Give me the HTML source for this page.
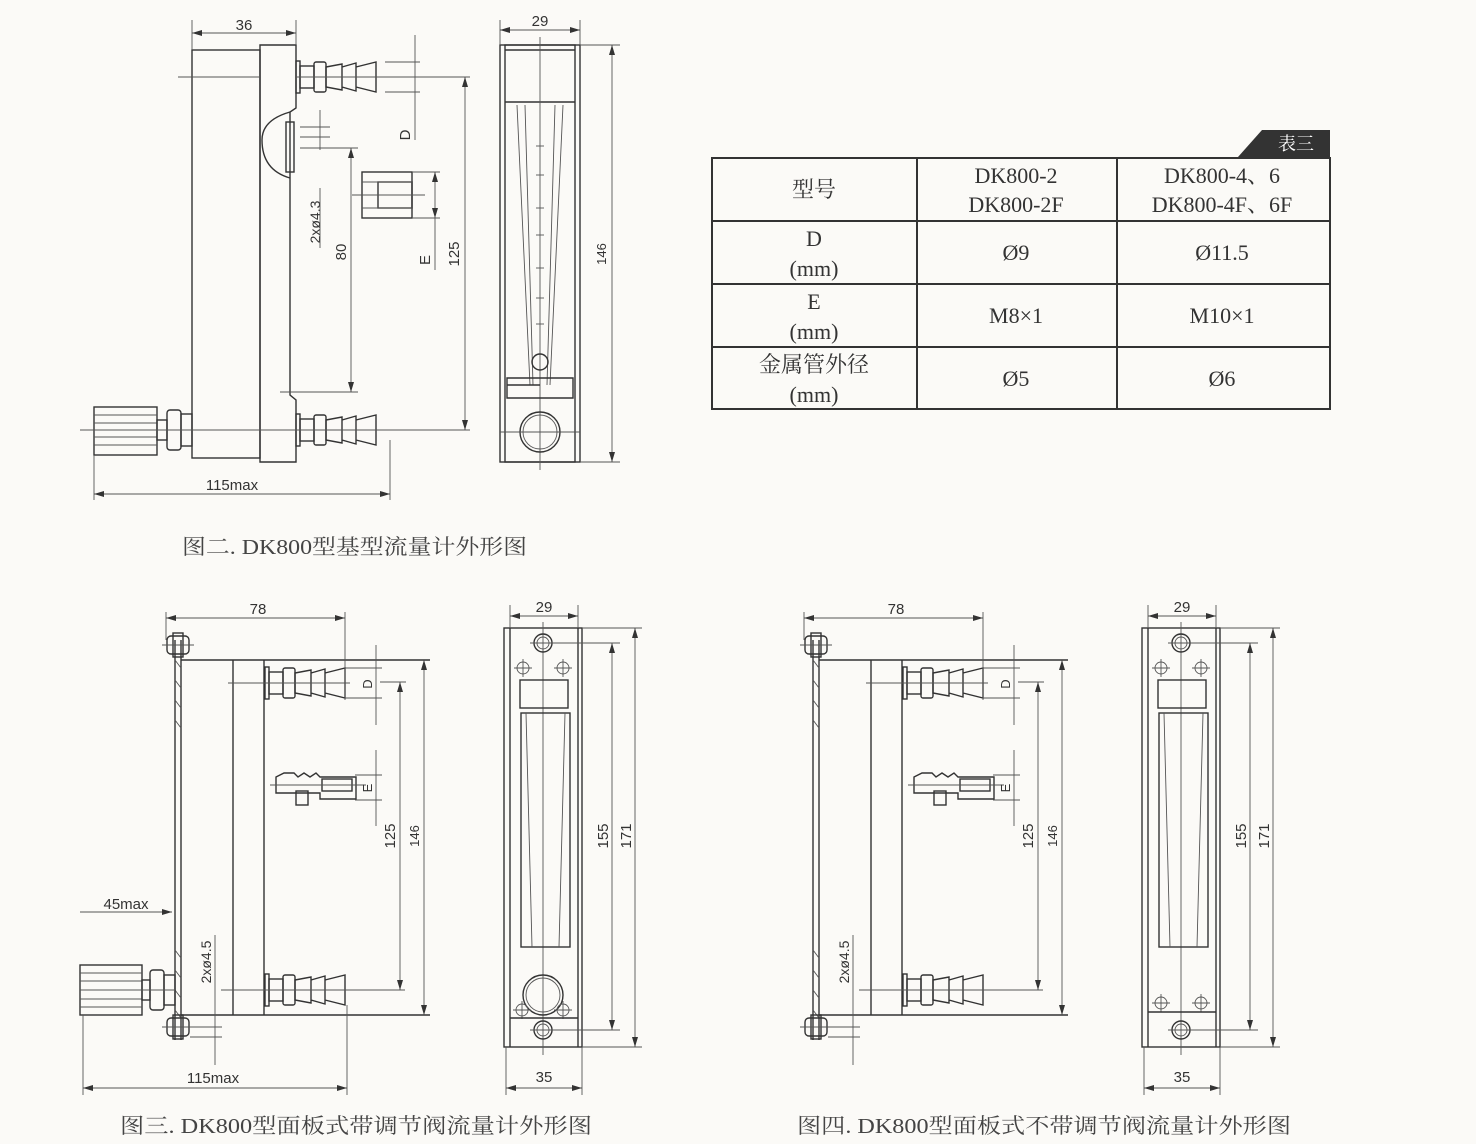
<!DOCTYPE html>
<html><head><meta charset="utf-8"><style>
html,body{margin:0;padding:0;background:#fbfaf7;}
svg{display:block}
.l{stroke:#333;stroke-width:1.4;fill:none}
.t{stroke:#555;stroke-width:0.9;fill:none}
.d{font-family:"Liberation Sans","DejaVu Sans",sans-serif;font-size:15px;fill:#333}
.c{font-family:"Liberation Serif","Noto Serif CJK SC",serif;font-size:21px;fill:#444}
.tb{font-family:"Liberation Serif","Noto Serif CJK SC",serif;font-size:22px;fill:#333;text-anchor:middle}
</style></head><body>
<svg width="1476" height="1144" viewBox="0 0 1476 1144" xmlns="http://www.w3.org/2000/svg">
<defs>
<marker id="a" viewBox="0 0 10 6" refX="10" refY="3" markerWidth="10" markerHeight="6" orient="auto-start-reverse" markerUnits="userSpaceOnUse"><path d="M0,0 L10,3 L0,6 z" fill="#333"/></marker>
<g id="barb" class="l">
<rect x="0" y="-16" width="4" height="32"/>
<rect x="4" y="-11" width="14" height="22"/>
<rect x="18" y="-15" width="12" height="30" rx="2"/>
<path d="M30,-10 L46,-13 L46,13 L30,10 Z M46,-10 L60,-14 L60,14 L46,10 Z M60,-10 L80,-15 L80,15 L60,10 Z"/>
</g>
<g id="mid" class="l">
<path d="M0,-8 L8,-12 L18,-12 L22,-8 L28,-12 L34,-8 L40,-12 L44,-8 L80,-8 L80,14 L44,14 L44,8 L0,8 Z"/>
<rect x="20" y="6" width="12" height="14"/>
<rect x="46" y="-6" width="30" height="12"/>
<line x1="-6" y1="0" x2="90" y2="0" class="t"/>
</g>
<g id="nut" class="l">
<rect x="-11" y="-9" width="22" height="18" rx="4"/>
<rect x="-5" y="-12" width="10" height="24"/>
<line x1="-16" y1="0" x2="16" y2="0" class="t"/>
</g>
<g id="ch" class="t"><circle r="6"/><line x1="-9" y1="0" x2="9" y2="0"/><line x1="0" y1="-9" x2="0" y2="9"/></g>
</defs>

<!-- ===== FIG 2 side ===== -->
<g>
<rect class="l" x="192" y="50" width="68" height="408"/>
<path class="l" d="M260,45 L296,45 L296,108 L290,112 L290,395 L296,400 L296,462 L260,462 Z"/>
<path class="l" d="M290,112 Q262,120 262,140 Q262,170 290,178"/>
<rect class="l" x="286" y="122" width="8" height="50"/>
<use href="#barb" x="296" y="77"/>
<use href="#barb" x="296" y="430"/>
<rect class="l" x="94" y="407" width="63" height="48"/>
<g class="t"><line x1="94" y1="415" x2="157" y2="415"/><line x1="94" y1="423" x2="157" y2="423"/><line x1="94" y1="437" x2="157" y2="437"/><line x1="94" y1="445" x2="157" y2="445"/></g>
<rect class="l" x="157" y="420" width="10" height="20"/>
<rect class="l" x="167" y="410" width="14" height="40" rx="3"/>
<rect class="l" x="181" y="414" width="11" height="32"/>
<line class="t" x1="80" y1="430" x2="420" y2="430"/>
<line class="t" x1="178" y1="77" x2="260" y2="77"/>
<line class="t" x1="296" y1="77" x2="470" y2="77"/>
<line class="t" x1="192" y1="20" x2="192" y2="50"/><line class="t" x1="296" y1="20" x2="296" y2="45"/>
<line class="t" x1="192" y1="33" x2="296" y2="33" marker-start="url(#a)" marker-end="url(#a)"/>
<text class="d" x="244" y="30" text-anchor="middle">36</text>
<line class="t" x1="94" y1="455" x2="94" y2="500"/><line class="t" x1="390" y1="440" x2="390" y2="500"/>
<line class="t" x1="94" y1="494" x2="390" y2="494" marker-start="url(#a)" marker-end="url(#a)"/>
<text class="d" x="232" y="490" text-anchor="middle">115max</text>
<line class="t" x1="465" y1="77" x2="465" y2="430" marker-start="url(#a)" marker-end="url(#a)"/>
<line class="t" x1="390" y1="430" x2="470" y2="430"/>
<text class="d" transform="translate(459,254) rotate(-90)" text-anchor="middle">125</text>
<line class="t" x1="300" y1="148" x2="358" y2="148"/><line class="t" x1="280" y1="392" x2="358" y2="392"/>
<line class="t" x1="351" y1="148" x2="351" y2="392" marker-start="url(#a)" marker-end="url(#a)"/>
<text class="d" transform="translate(346,252) rotate(-90)" text-anchor="middle">80</text>
<line class="t" x1="320" y1="110" x2="320" y2="150"/><line class="t" x1="300" y1="127" x2="330" y2="127"/><line class="t" x1="300" y1="137" x2="330" y2="137"/>
<text class="d" transform="translate(320,222) rotate(-90)" text-anchor="middle" style="font-size:14px">2xø4.3</text>
<line class="t" x1="320" y1="188" x2="320" y2="248"/>
<line class="t" x1="385" y1="62" x2="420" y2="62"/><line class="t" x1="385" y1="92" x2="420" y2="92"/>
<line class="t" x1="415" y1="35" x2="415" y2="140"/>
<text class="d" transform="translate(410,135) rotate(-90)" text-anchor="middle">D</text>
<rect class="l" x="362" y="172" width="50" height="46"/>
<rect class="l" x="378" y="182" width="34" height="26"/>
<line class="t" x1="362" y1="182" x2="412" y2="182"/><line class="t" x1="362" y1="208" x2="412" y2="208"/>
<line class="t" x1="352" y1="195" x2="425" y2="195"/>
<line class="t" x1="412" y1="172" x2="440" y2="172"/><line class="t" x1="412" y1="218" x2="440" y2="218"/>
<line class="t" x1="435" y1="172" x2="435" y2="218" marker-start="url(#a)" marker-end="url(#a)"/>
<line class="t" x1="435" y1="218" x2="435" y2="270"/>
<text class="d" transform="translate(430,260) rotate(-90)" text-anchor="middle">E</text>
</g>

<!-- ===== FIG 2 front ===== -->
<g>
<rect class="l" x="500" y="45" width="80" height="417"/>
<rect class="l" x="505" y="45" width="70" height="417"/>
<line class="l" x1="505" y1="50" x2="575" y2="50"/>
<line class="l" x1="505" y1="102" x2="575" y2="102"/>
<path class="t" d="M517,105 L530,385 M525,105 L533,385 M555,105 L547,385 M563,105 L550,385"/>
<line class="t" x1="540" y1="37" x2="540" y2="470"/>
<circle class="l" cx="540" cy="362" r="8"/>
<path class="l" d="M507,378 L573,378 L573,398 L507,398 Z M507,385 L540,385"/>
<circle class="l" cx="540" cy="432" r="20"/><circle class="t" cx="540" cy="432" r="17"/>
<line class="t" x1="500" y1="432" x2="580" y2="432"/>
<g class="t"><line x1="536" y1="146" x2="544" y2="146"/><line x1="536" y1="175" x2="544" y2="175"/><line x1="536" y1="208" x2="544" y2="208"/><line x1="536" y1="235" x2="544" y2="235"/><line x1="536" y1="268" x2="544" y2="268"/><line x1="536" y1="298" x2="544" y2="298"/><line x1="536" y1="324" x2="544" y2="324"/></g>
<line class="t" x1="500" y1="20" x2="500" y2="45"/><line class="t" x1="580" y1="20" x2="580" y2="45"/>
<line class="t" x1="500" y1="30" x2="580" y2="30" marker-start="url(#a)" marker-end="url(#a)"/>
<text class="d" x="540" y="26" text-anchor="middle">29</text>
<line class="t" x1="580" y1="45" x2="620" y2="45"/><line class="t" x1="580" y1="462" x2="620" y2="462"/>
<line class="t" x1="612" y1="45" x2="612" y2="462" marker-start="url(#a)" marker-end="url(#a)"/>
<text class="d" transform="translate(606,254) rotate(-90)" text-anchor="middle" style="font-size:13px">146</text>
</g>

<!-- ===== TABLE ===== -->
<path d="M1262,130 L1330,130 L1330,157 L1238,157 Z" fill="#333"/>
<text x="1296" y="150" style="font-family:'Noto Serif CJK SC',serif;font-size:18px;fill:#fff" text-anchor="middle">表三</text>
<g stroke="#333" stroke-width="2" fill="none">
<rect x="712" y="158" width="618" height="251"/>
<line x1="917" y1="158" x2="917" y2="409"/><line x1="1117" y1="158" x2="1117" y2="409"/>
<line x1="712" y1="221" x2="1330" y2="221"/><line x1="712" y1="284" x2="1330" y2="284"/><line x1="712" y1="347" x2="1330" y2="347"/>
</g>
<text class="tb" x="814" y="197">型号</text>
<text class="tb" x="1016" y="183">DK800-2</text><text class="tb" x="1016" y="212">DK800-2F</text>
<text class="tb" x="1222" y="183">DK800-4、6</text><text class="tb" x="1222" y="212">DK800-4F、6F</text>
<text class="tb" x="814" y="246">D</text><text class="tb" x="814" y="276">(mm)</text>
<text class="tb" x="1016" y="260">Ø9</text><text class="tb" x="1222" y="260">Ø11.5</text>
<text class="tb" x="814" y="309">E</text><text class="tb" x="814" y="339">(mm)</text>
<text class="tb" x="1016" y="323">M8×1</text><text class="tb" x="1222" y="323">M10×1</text>
<text class="tb" x="814" y="372">金属管外径</text><text class="tb" x="814" y="402">(mm)</text>
<text class="tb" x="1016" y="386">Ø5</text><text class="tb" x="1222" y="386">Ø6</text>

<!-- ===== FIG 3 & FIG 4 side views ===== -->
<g id="side">
<line class="l" x1="175" y1="640" x2="175" y2="1040"/><line class="l" x1="181" y1="640" x2="181" y2="1040"/>
<path class="t" d="M175,660 L181,668 M175,680 L181,688 M175,700 L181,708 M175,720 L181,728 M175,950 L181,958 M175,970 L181,978 M175,990 L181,998 M175,1010 L181,1018"/>
<use href="#nut" x="178" y="645"/><use href="#nut" x="178" y="1027"/>
<line class="l" x1="181" y1="660" x2="430" y2="660"/>
<line class="l" x1="181" y1="1015" x2="430" y2="1015"/>
<line class="l" x1="233" y1="660" x2="233" y2="1015"/>
<line class="l" x1="264" y1="660" x2="264" y2="1015"/>
<use href="#barb" x="265" y="683"/>
<use href="#barb" x="265" y="990"/>
<use href="#mid" x="276" y="785"/>
<line class="t" x1="228" y1="683" x2="350" y2="683"/>
<line class="t" x1="221" y1="990" x2="405" y2="990"/>
<line class="t" x1="166" y1="612" x2="166" y2="640"/><line class="t" x1="345" y1="612" x2="345" y2="700"/>
<line class="t" x1="166" y1="618" x2="345" y2="618" marker-start="url(#a)" marker-end="url(#a)"/>
<text class="d" x="258" y="614" text-anchor="middle">78</text>
<line class="t" x1="345" y1="668" x2="382" y2="668"/><line class="t" x1="345" y1="698" x2="382" y2="698"/>
<line class="t" x1="376" y1="645" x2="376" y2="725"/>
<text class="d" transform="translate(372,684) rotate(-90)" text-anchor="middle" style="font-size:13px">D</text>
<line class="t" x1="355" y1="775" x2="382" y2="775"/><line class="t" x1="355" y1="800" x2="382" y2="800"/>
<line class="t" x1="376" y1="750" x2="376" y2="826"/>
<text class="d" transform="translate(372,788) rotate(-90)" text-anchor="middle" style="font-size:13px">E</text>
<line class="t" x1="380" y1="682" x2="406" y2="682"/>
<line class="t" x1="400" y1="682" x2="400" y2="990" marker-start="url(#a)" marker-end="url(#a)"/>
<text class="d" transform="translate(395,836) rotate(-90)" text-anchor="middle">125</text>
<line class="t" x1="424" y1="660" x2="424" y2="1015" marker-start="url(#a)" marker-end="url(#a)"/>
<text class="d" transform="translate(419,836) rotate(-90)" text-anchor="middle" style="font-size:13px">146</text>
<line class="t" x1="215" y1="935" x2="215" y2="1065"/><line class="t" x1="190" y1="1027" x2="222" y2="1027"/><line class="t" x1="190" y1="1037" x2="222" y2="1037"/>
<text class="d" transform="translate(211,962) rotate(-90)" text-anchor="middle" style="font-size:14px">2xø4.5</text>
</g>
<use href="#side" x="638" y="0"/>
<rect class="l" x="80" y="965" width="62" height="50"/>
<g class="t"><line x1="80" y1="973" x2="142" y2="973"/><line x1="80" y1="981" x2="142" y2="981"/><line x1="80" y1="999" x2="142" y2="999"/><line x1="80" y1="1007" x2="142" y2="1007"/></g>
<rect class="l" x="142" y="980" width="8" height="20"/>
<rect class="l" x="150" y="970" width="14" height="40" rx="3"/>
<rect class="l" x="164" y="975" width="11" height="30"/>
<line class="t" x1="80" y1="990" x2="175" y2="990"/>
<line class="t" x1="80" y1="912" x2="172" y2="912" marker-end="url(#a)"/>
<text class="d" x="126" y="909" text-anchor="middle">45max</text>
<line class="t" x1="83" y1="1015" x2="83" y2="1095"/><line class="t" x1="347" y1="1005" x2="347" y2="1095"/>
<line class="t" x1="83" y1="1088" x2="347" y2="1088" marker-start="url(#a)" marker-end="url(#a)"/>
<text class="d" x="213" y="1083" text-anchor="middle">115max</text>

<!-- ===== FRONT panel views ===== -->
<g id="front">
<rect class="l" x="504" y="628" width="78" height="419"/>
<line class="l" x1="510" y1="628" x2="510" y2="1047"/><line class="l" x1="578" y1="628" x2="578" y2="1047"/>
<line class="t" x1="543" y1="622" x2="543" y2="1055"/>
<circle class="l" cx="543" cy="643" r="9"/><circle class="t" cx="543" cy="643" r="6"/>
<line class="t" x1="530" y1="643" x2="620" y2="643"/>
<use href="#ch" x="523" y="668"/><use href="#ch" x="563" y="668"/>
<rect class="l" x="520" y="680" width="48" height="28"/>
<rect class="l" x="521" y="713" width="49" height="234"/>
<path class="t" d="M526,713 L532,947 M565,713 L559,947"/>
<circle class="l" cx="543" cy="1030" r="9"/><circle class="t" cx="543" cy="1030" r="6"/>
<line class="t" x1="530" y1="1030" x2="620" y2="1030"/>
<line class="t" x1="612" y1="643" x2="612" y2="1030" marker-start="url(#a)" marker-end="url(#a)"/>
<text class="d" transform="translate(608,836) rotate(-90)" text-anchor="middle">155</text>
<line class="t" x1="582" y1="628" x2="642" y2="628"/><line class="t" x1="582" y1="1047" x2="642" y2="1047"/>
<line class="t" x1="635" y1="628" x2="635" y2="1047" marker-start="url(#a)" marker-end="url(#a)"/>
<text class="d" transform="translate(631,836) rotate(-90)" text-anchor="middle">171</text>
<line class="t" x1="510" y1="605" x2="510" y2="628"/><line class="t" x1="578" y1="605" x2="578" y2="628"/>
<line class="t" x1="510" y1="616" x2="578" y2="616" marker-start="url(#a)" marker-end="url(#a)"/>
<text class="d" x="544" y="612" text-anchor="middle">29</text>
<line class="t" x1="506" y1="1047" x2="506" y2="1095"/><line class="t" x1="582" y1="1047" x2="582" y2="1095"/>
<line class="t" x1="506" y1="1088" x2="582" y2="1088" marker-start="url(#a)" marker-end="url(#a)"/>
<text class="d" x="544" y="1082" text-anchor="middle">35</text>
</g>
<circle class="l" cx="543" cy="995" r="20"/><circle class="t" cx="543" cy="995" r="17"/>
<use href="#ch" x="522" y="1010"/><use href="#ch" x="563" y="1010"/>
<line class="l" x1="510" y1="1018" x2="578" y2="1018"/>
<use href="#front" x="638" y="0"/>
<use href="#ch" x="1161" y="1003"/><use href="#ch" x="1201" y="1003"/>
<line class="l" x1="1148" y1="1012" x2="1216" y2="1012"/>

<text class="c" x="182" y="554" textLength="345" lengthAdjust="spacingAndGlyphs">图二. DK800型基型流量计外形图</text>
<text class="c" x="120" y="1133" textLength="472" lengthAdjust="spacingAndGlyphs">图三. DK800型面板式带调节阀流量计外形图</text>
<text class="c" x="797" y="1133" textLength="494" lengthAdjust="spacingAndGlyphs">图四. DK800型面板式不带调节阀流量计外形图</text>
</svg>
</body></html>
